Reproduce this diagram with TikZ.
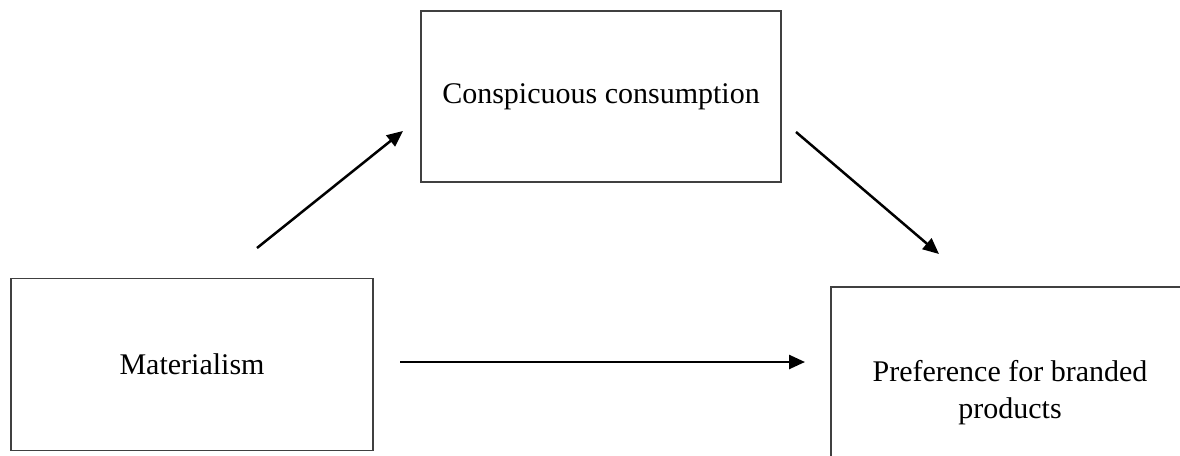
\documentclass[tikz,border=0pt]{standalone}
\usepackage{fontspec}
\setmainfont{Liberation Serif}
\usetikzlibrary{arrows.meta}
\begin{document}
\begin{tikzpicture}[x=1pt,y=-1pt,
  box/.style={draw=black!75, line width=1.1pt, inner sep=0pt, align=center,
    font=\fontsize{30}{37}\selectfont},
  conn/.style={line width=2.5pt, -{Triangle[length=16pt,width=14pt]}}]
\useasboundingbox (0,0) rectangle (1180,455);
\clip (0,0) rectangle (1180,455);
\node[box, minimum width=362pt, minimum height=172pt] (mat) at (192,364.5) {Materialism};
\node[box, minimum width=360pt, minimum height=171pt] (con) at (601,96.5) {Conspicuous consumption};
\node[box, minimum width=358pt, minimum height=212pt] (pref) at (1010,393) {Preference for branded\\products};
\coordinate (a1s) at (257,248);
\coordinate (a1e) at (403,131);
\coordinate (a2s) at (796,132);
\coordinate (a2e) at (939,254);
\coordinate (a3s) at (400,362);
\coordinate (a3e) at (805,362);
\draw[conn] (a1s) -- (a1e);
\draw[conn] (a2s) -- (a2e);
\draw[conn] (a3s) -- (a3e);
\end{tikzpicture}
\end{document}
